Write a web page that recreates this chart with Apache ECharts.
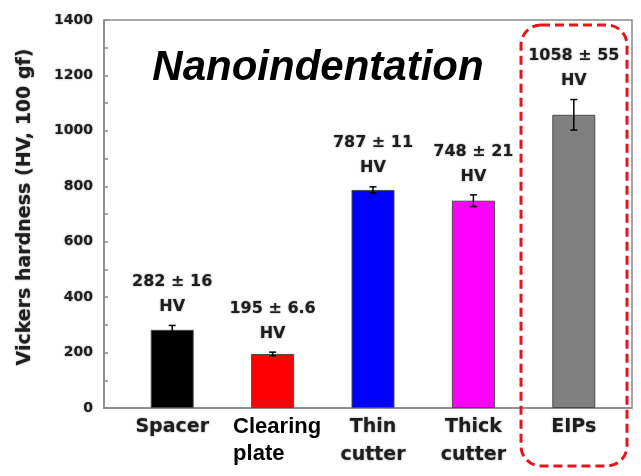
<!DOCTYPE html>
<html>
<head>
<meta charset="utf-8">
<script src="https://cdn.jsdelivr.net/npm/echarts@6.0.0/dist/echarts.min.js"></script>
<style>
  html, body { margin: 0; padding: 0; background: #fff; }
  #chart { width: 641px; height: 476px; }
</style>
</head>
<body>
<div id="chart"></div>
<script>
// Hardness per part (mean and standard deviation, HV)
const categories = ['Spacer', 'Clearing\nplate', 'Thin\ncutter', 'Thick\ncutter', 'EIPs'];
const hardness = [282, 195, 787, 748, 1058];
const hardnessSd = [16, 6.6, 11, 21, 55];
const barColors = ['#000000', '#ff0000', '#0000ff', '#ff00ff', '#808080'];

// Value axis range
const yMin = 0;
const yMax = 1400;
const yStep = 200;

const softInk = '#1e1e1e';
const softShadow = { textShadowColor: 'rgba(0,0,0,0.45)', textShadowBlur: 2 };
const gridTop = 20, gridBottom = 68;

const chart = echarts.init(document.getElementById('chart'), null, { renderer: 'canvas' });

chart.setOption({
  animation: false,
  backgroundColor: '#ffffff',
  grid: [
    // frame with the value axis
    { left: 104, right: 9, top: gridTop, bottom: gridBottom, show: true,
      borderColor: '#8a8a8a', borderWidth: 1.5, backgroundColor: 'transparent',
      outerBoundsMode: 'none' },
    // bars
    { left: 122, right: 17, top: gridTop, bottom: gridBottom, outerBoundsMode: 'none' }
  ],
  xAxis: [
    { gridIndex: 0, type: 'value', min: 0, max: 1, show: true,
      axisLine: { show: true, lineStyle: { color: '#8a8a8a', width: 1.5 } },
      axisTick: { show: false }, axisLabel: { show: false }, splitLine: { show: false } },
    { gridIndex: 1, type: 'category', data: categories,
      axisLine: { show: false }, axisTick: { show: false }, splitLine: { show: false },
      axisLabel: {
        interval: 0, margin: 5,
        formatter: (v, i) => v.split('\n').map(s => (i === 1 ? `{c|${s}}` : `{g|${s}}`)).join('\n'),
        rich: {
          g: { fontFamily: 'DejaVu Sans', fontWeight: 'bold', fontSize: 19, lineHeight: 28,
               color: softInk, ...softShadow },
          c: { fontFamily: 'Liberation Sans', fontWeight: 'bold', fontSize: 22, lineHeight: 27,
               color: '#000000', width: 96, align: 'left', padding: [0, 0, 0, 17] }
        }
      } }
  ],
  yAxis: [
    { gridIndex: 0, type: 'value', min: yMin, max: yMax, interval: yStep,
      axisLine: { show: true, lineStyle: { color: '#8a8a8a', width: 1.5 } },
      axisTick: { show: true, inside: true, length: 4, lineStyle: { color: '#8a8a8a', width: 1.5 } },
      minorTick: { show: true, splitNumber: 2, length: 4, lineStyle: { color: '#8a8a8a', width: 1.5 } },
      splitLine: { show: false },
      axisLabel: { margin: 11, fontFamily: 'DejaVu Sans', fontWeight: 'bold', fontSize: 14,
                   color: softInk, formatter: v => String(v), ...softShadow } },
    { gridIndex: 1, type: 'value', min: yMin, max: yMax, show: false }
  ],
  series: [
    {
      type: 'bar', xAxisIndex: 1, yAxisIndex: 1, barWidth: 43,
      data: hardness.map((v, i) => ({
        value: v,
        itemStyle: { color: barColors[i], borderColor: '#4a4a4a', borderWidth: 1 }
      }))
    },
    {
      type: 'custom', xAxisIndex: 1, yAxisIndex: 1, clip: false, z: 5,
      encode: { x: 0, y: 1 },
      data: hardness.map((v, i) => [i, v, hardnessSd[i]]),
      renderItem: (params, api) => {
        const i = api.value(0), m = api.value(1), s = api.value(2);
        const hi = api.coord([i, m + s]);
        const lo = api.coord([i, m - s]);
        const cap = 3.5;
        const stroke = { stroke: '#000000', lineWidth: 1.5 };
        return {
          type: 'group',
          children: [
            { type: 'line', shape: { x1: hi[0], y1: hi[1], x2: lo[0], y2: lo[1] }, style: stroke },
            { type: 'line', shape: { x1: hi[0] - cap, y1: hi[1], x2: hi[0] + cap, y2: hi[1] }, style: stroke },
            { type: 'line', shape: { x1: lo[0] - cap, y1: lo[1], x2: lo[0] + cap, y2: lo[1] }, style: stroke },
            { type: 'text', x: hi[0], y: hi[1] - 6,
              style: { text: `${m} \u00b1 ${s}\nHV`, align: 'center', verticalAlign: 'bottom',
                       fontFamily: 'DejaVu Sans', fontWeight: 'bold', fontSize: 16, lineHeight: 25,
                       fill: softInk, ...softShadow } }
          ]
        };
      }
    }
  ],
  graphic: [
    { type: 'text', position: [318, 68],
      style: { text: 'Nanoindentation', x: 0, y: 0, align: 'center', verticalAlign: 'middle',
               fontFamily: 'Liberation Sans', fontWeight: 'bold', fontStyle: 'italic', fontSize: 42,
               fill: '#000000' } },
    { type: 'text', rotation: Math.PI / 2, position: [25.5, 207],
      style: { text: 'Vickers hardness (HV, 100 gf)', x: 0, y: 0, align: 'center', verticalAlign: 'middle',
               fontFamily: 'DejaVu Sans', fontWeight: 'bold', fontSize: 19,
               fill: softInk, ...softShadow } },
    { type: 'rect', shape: { x: 521, y: 25, width: 106, height: 441, r: 20 },
      style: { fill: 'none', stroke: '#e3141e', lineWidth: 3, lineDash: [9, 5] }, z: 10 }
  ]
});
</script>
</body>
</html>
